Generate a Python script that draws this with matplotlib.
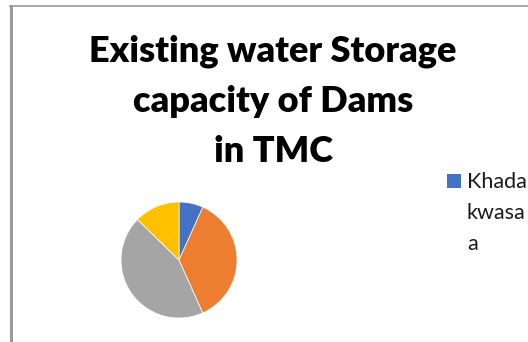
import matplotlib
matplotlib.use("Agg")
import matplotlib.pyplot as plt
from matplotlib.patches import Rectangle
from matplotlib.lines import Line2D

dams = ["Khadakwasala", "Panshet", "Varasgaon", "Temghar"]
capacity_tmc = [1.97, 10.65, 12.82, 3.71]
colors = ["#4472C4", "#ED7D31", "#A5A5A5", "#FFC000"]
title_lines = ["Existing water Storage", "capacity of Dams", "in TMC"]
legend_lines = ["Khada", "kwasa", "a"]

W, H = 528, 342
fig = plt.figure(figsize=(W / 100, H / 100), dpi=100)
fig.patch.set_facecolor("white")

def fx(x):
    return x / W

def fy(y):
    return 1 - y / H

# border (left and top)
fig.add_artist(Line2D([fx(10.5), fx(10.5)], [fy(6), fy(342)], color="#9a9a9a", lw=2.2))
fig.add_artist(Line2D([fx(9.5), fx(528)], [fy(6.3), fy(6.3)], color="#9a9a9a", lw=1.2))

# title
baselines = [62, 112, 162]
for line, yb in zip(title_lines, baselines):
    fig.text(fx(273), fy(yb), line, ha="center", va="baseline",
             fontsize=26, fontweight="heavy", family="Lato", color="black")

# pie
cx, cy, r = 179, 260, 58
ax = fig.add_axes([fx(cx - r), fy(cy + r), (2 * r) / W, (2 * r) / H])
ax.pie(capacity_tmc, colors=colors, startangle=90, counterclock=False,
       radius=1, wedgeprops=dict(edgecolor="white", linewidth=0.5))
ax.set_xlim(-1, 1)
ax.set_ylim(-1, 1)
ax.set_aspect("auto")
ax.axis("off")

# legend (only first entry visible)
fig.add_artist(Rectangle((fx(447), fy(188)), 14 / W, 14 / H, facecolor=colors[0],
                         edgecolor="none", transform=fig.transFigure))
for line, yb in zip(legend_lines, [188, 219, 250]):
    fig.text(fx(467), fy(yb), line, ha="left", va="baseline", fontsize=15.5,
             family="Lato", color="#1a1a1a")

fig.savefig("out.png", dpi=100)
